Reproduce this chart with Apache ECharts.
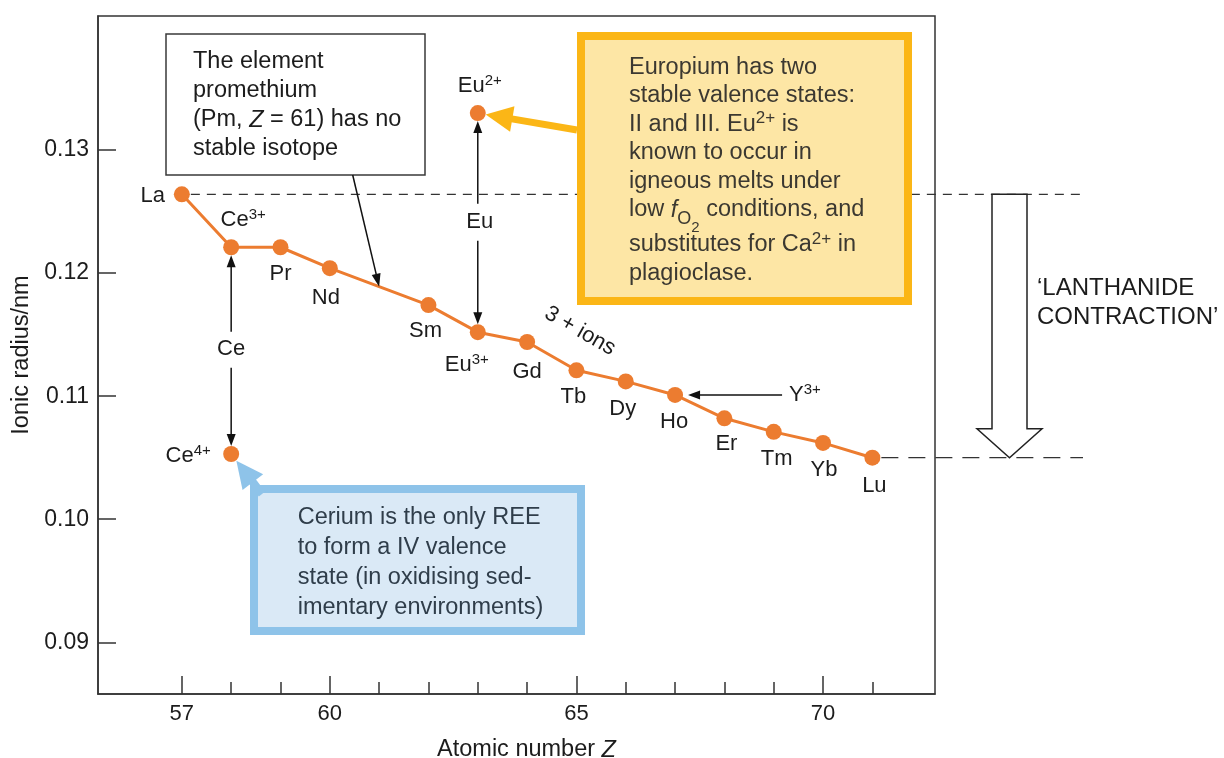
<!DOCTYPE html>
<html>
<head>
<meta charset="utf-8">
<title>Lanthanide contraction</title>
<script src="https://cdn.jsdelivr.net/npm/echarts@6/dist/echarts.min.js"></script>
<style>
html, body { margin: 0; padding: 0; background: #fff; }
#chart { width: 1224px; height: 758px; }
</style>
</head>
<body>
<div id="chart"></div>
<script>
// 3+ ions (Pm, Z = 61, is left out: no stable isotope)
var elements = ['La', 'Ce', 'Pr', 'Nd', 'Sm', 'Eu', 'Gd', 'Tb', 'Dy', 'Ho', 'Er', 'Tm', 'Yb', 'Lu'];
var atomicNumbers = [57, 58, 59, 60, 62, 63, 64, 65, 66, 67, 68, 69, 70, 71];
var radius3plus = [0.1264, 0.1221, 0.1221, 0.1204, 0.1174, 0.1152, 0.1144, 0.1121, 0.1112, 0.1101, 0.1082, 0.1071, 0.1062, 0.1050];
var chargeShown = ['', '3+', '', '', '', '3+', '', '', '', '', '', '', '', ''];

// other valence states
var otherIons = ['Ce', 'Eu'];
var otherCharges = ['4+', '2+'];
var otherZ = [58, 63];
var otherRadius = [0.1053, 0.1330];

// axes
var xMajorTicks = [57, 60, 65, 70];
var xMinorTicks = [57, 58, 59, 60, 61, 62, 63, 64, 65, 66, 67, 68, 69, 70, 71];
var yTicks = [0.09, 0.10, 0.11, 0.12, 0.13];
var xMin = 55.3, xMax = 72.27;
var yMin = 0.0858, yMax = 0.14089;

var FONT = '"Liberation Sans", Arial, Helvetica, sans-serif';
var INK = '#1c1c1c';
var AXIS = '#333';
var ORANGE = '#ec7c30';
var BOX_FONT = 23.5;

// label offsets (px from dot centre to label centre)
var labelOffset = {
    La: [-29, 2], Ce: [12, -27], Pr: [0, 27], Nd: [-4, 30], Sm: [-3, 26], Eu: [-11, 33],
    Gd: [0, 30], Tb: [-3, 27], Dy: [-3, 28], Ho: [-1, 27], Er: [2, 26], Tm: [3, 27],
    Yb: [1, 27], Lu: [2, 28]
};
var otherOffset = {Ce: [-43, 2], Eu: [2, -27]};

var supRich = {
    sup: {fontSize: 15, lineHeight: 14, verticalAlign: 'top', fontFamily: FONT, color: INK}
};
var pointLabel = {
    show: true,
    position: 'inside',
    color: INK,
    fontSize: 22,
    lineHeight: 26,
    fontFamily: FONT,
    textBorderWidth: 0,
    rich: supRich
};

function ionText(sym, charge) {
    return charge ? sym + '{sup|' + charge + '}' : sym;
}

var option = {
    animation: false,
    backgroundColor: '#fff',
    grid: {
        left: 98, right: 289, top: 16, bottom: 64,
        outerBoundsMode: 'none',
        containLabel: false,
        show: true, borderColor: AXIS, borderWidth: 1.5
    },
    xAxis: [{
        type: 'value',
        min: xMin,
        max: xMax,
        position: 'bottom',
        name: 'Atomic number {i|Z}',
        nameLocation: 'middle',
        nameGap: 44,
        nameTextStyle: {
            color: INK, fontSize: 23.5, fontFamily: FONT, padding: [0, 0, 0, 20],
            rich: {i: {fontStyle: 'italic', fontSize: 23.5, fontFamily: FONT, color: INK}}
        },
        axisLine: {onZero: false, lineStyle: {color: AXIS, width: 1.5}},
        axisTick: {inside: true, length: 18, customValues: xMajorTicks, lineStyle: {color: AXIS, width: 1.5}},
        axisLabel: {customValues: xMajorTicks, fontSize: 22, color: INK, fontFamily: FONT, margin: 9},
        splitLine: {show: false}
    }, {
        type: 'value',
        min: xMin,
        max: xMax,
        position: 'bottom',
        axisLine: {show: false, onZero: false},
        axisTick: {inside: true, length: 12, customValues: xMinorTicks, lineStyle: {color: AXIS, width: 1.5}},
        axisLabel: {show: false},
        splitLine: {show: false}
    }],
    yAxis: {
        type: 'value',
        min: yMin,
        max: yMax,
        name: 'Ionic radius/nm',
        nameLocation: 'middle',
        nameGap: 64,
        nameTextStyle: {color: INK, fontSize: 23.5, fontFamily: FONT},
        axisLine: {onZero: false, lineStyle: {color: AXIS, width: 1.5}},
        axisTick: {inside: true, length: 18, customValues: yTicks, lineStyle: {color: AXIS, width: 1.5}},
        axisLabel: {
            customValues: yTicks, fontSize: 23, color: INK, fontFamily: FONT, margin: 9,
            formatter: function (v) { return v.toFixed(2); }
        },
        splitLine: {show: false}
    },
    series: [
        {
            type: 'line',
            name: '3+ ions',
            xAxisIndex: 0,
            data: atomicNumbers.map(function (z, i) {
                return {
                    value: [z, radius3plus[i]],
                    label: {formatter: ionText(elements[i], chargeShown[i]), offset: labelOffset[elements[i]]}
                };
            }),
            symbol: 'circle',
            symbolSize: 16,
            itemStyle: {color: ORANGE},
            lineStyle: {color: ORANGE, width: 3},
            label: pointLabel,
            emphasis: {disabled: true},
            z: 5
        },
        {
            type: 'scatter',
            name: 'other valence',
            xAxisIndex: 0,
            data: otherZ.map(function (z, i) {
                return {
                    value: [z, otherRadius[i]],
                    label: {formatter: ionText(otherIons[i], otherCharges[i]), offset: otherOffset[otherIons[i]]}
                };
            }),
            symbol: 'circle',
            symbolSize: 16,
            itemStyle: {color: ORANGE, opacity: 1},
            label: pointLabel,
            emphasis: {disabled: true},
            z: 5
        }
    ]
};

var chart = echarts.init(document.getElementById('chart'), null, {renderer: 'canvas'});
chart.setOption(option);

function px(z, r) {
    return chart.convertToPixel({xAxisIndex: 0, yAxisIndex: 0}, [z, r]);
}

function arrow(from, to, color, width, headLen, headHalf, z) {
    var dx = to[0] - from[0], dy = to[1] - from[1];
    var len = Math.sqrt(dx * dx + dy * dy);
    var ux = dx / len, uy = dy / len;
    var bx = to[0] - ux * headLen, by = to[1] - uy * headLen;
    return [
        {type: 'line', z: z, silent: true,
            shape: {x1: from[0], y1: from[1], x2: bx + ux * 2, y2: by + uy * 2},
            style: {stroke: color, lineWidth: width}},
        {type: 'polygon', z: z, silent: true,
            shape: {points: [[to[0], to[1]], [bx - uy * headHalf, by + ux * headHalf], [bx + uy * headHalf, by - ux * headHalf]]},
            style: {fill: color}}
    ];
}

function toward(p, q, d) {
    var dx = q[0] - p[0], dy = q[1] - p[1];
    var len = Math.sqrt(dx * dx + dy * dy);
    return [p[0] + dx / len * d, p[1] + dy / len * d];
}

function txt(x, y, text, opts) {
    opts = opts || {};
    return {
        type: 'text', z: opts.z || 12, silent: true,
        x: x, y: y, rotation: opts.rotation || 0,
        style: {
            text: text, x: 0, y: 0,
            fill: opts.color || INK,
            fontSize: opts.size || 22, fontFamily: FONT,
            lineHeight: opts.lh || 26,
            align: opts.align || 'center',
            verticalAlign: opts.va || 'middle',
            rich: opts.rich
        }
    };
}

// sup: raised small figures; i: italic; sub/sub2: lowered by top padding
function boxRich(color) {
    return {
        sup: {fontSize: 17, lineHeight: 28.6, verticalAlign: 'top', fontFamily: FONT, fill: color},
        i: {fontSize: BOX_FONT, fontStyle: 'italic', lineHeight: 28.6, fontFamily: FONT, fill: color},
        sub: {fontSize: 18, lineHeight: 28.6, verticalAlign: 'top', padding: [14, 0, 0, 0], fontFamily: FONT, fill: color},
        sub2: {fontSize: 15, lineHeight: 28.6, verticalAlign: 'top', padding: [25, 0, 0, 0], fontFamily: FONT, fill: color}
    };
}

function block(x, centers, lines, color) {
    return lines.map(function (line, k) {
        return txt(x, centers[k], line, {size: BOX_FONT, color: color, align: 'left', lh: 28.6, rich: boxRich(color)});
    });
}

var pLa = px(atomicNumbers[0], radius3plus[0]);
var pCe3 = px(atomicNumbers[1], radius3plus[1]);
var pNd = px(atomicNumbers[3], radius3plus[3]);
var pSm = px(atomicNumbers[4], radius3plus[4]);
var pEu3 = px(atomicNumbers[5], radius3plus[5]);
var pHo = px(atomicNumbers[9], radius3plus[9]);
var pLu = px(atomicNumbers[13], radius3plus[13]);
var pCe4 = px(otherZ[0], otherRadius[0]);
var pEu2 = px(otherZ[1], otherRadius[1]);

var g = [];

// dashed reference levels (La and Lu)
g.push({type: 'line', z: 1, silent: true,
    shape: {x1: pLa[0] + 9, y1: pLa[1], x2: 1083, y2: pLa[1]},
    style: {stroke: '#333', lineWidth: 1.3, lineDash: [9, 7]}});
g.push({type: 'line', z: 1, silent: true,
    shape: {x1: pLu[0] + 9, y1: pLu[1], x2: 1083, y2: pLu[1]},
    style: {stroke: '#333', lineWidth: 1.3, lineDash: [17, 10]}});

// hollow 'lanthanide contraction' arrow
var headY = pLu[1] - 29;
g.push({type: 'polygon', z: 3, silent: true,
    shape: {points: [[992, pLa[1]], [1027, pLa[1]], [1027, headY], [1042, headY], [1009.5, pLu[1]], [977, headY], [992, headY]]},
    style: {fill: '#fff', stroke: '#222', lineWidth: 1.5}});
g.push(txt(1037, 288, '\u2018LANTHANIDE', {size: 24, align: 'left'}));
g.push(txt(1037, 317, 'CONTRACTION\u2019', {size: 24, align: 'left'}));

// promethium box
g.push({type: 'rect', z: 10, silent: true,
    shape: {x: 166, y: 34, width: 259, height: 141},
    style: {fill: '#fff', stroke: '#3a3a3a', lineWidth: 1.5}});
g = g.concat(block(193, [62, 91, 120, 148.5],
    ['The element', 'promethium', '(Pm, {i|Z} = 61) has no', 'stable isotope'], INK));
var pPm = [(pNd[0] + pSm[0]) / 2, (pNd[1] + pSm[1]) / 2];
g = g.concat(arrow([352.7, 175], pPm, '#111', 1.5, 13, 4.5, 11));

// europium box
var euInk = '#3b3831';
g.push({type: 'rect', z: 10, silent: true,
    shape: {x: 581, y: 36, width: 327, height: 265},
    style: {fill: '#fde6a5', stroke: '#fbb616', lineWidth: 8}});
g = g.concat(block(629, [67.5, 96, 124.5, 153, 181.5, 210, 245, 273.5],
    ['Europium has two', 'stable valence states:', 'II and III. Eu{sup|2+} is', 'known to occur in',
        'igneous melts under', 'low {i|f}{sub|O}{sub2|2} conditions, and',
        'substitutes for Ca{sup|2+} in', 'plagioclase.'], euInk));
var yFrom = [577, 130];
g = g.concat(arrow(yFrom, toward(pEu2, yFrom, 8), '#fbb616', 7, 27, 13, 11));

// cerium box
var ceInk = '#2f3d4a';
g.push({type: 'rect', z: 10, silent: true,
    shape: {x: 254, y: 489, width: 327, height: 142},
    style: {fill: '#dae9f6', stroke: '#8ec3e9', lineWidth: 8}});
g = g.concat(block(297.7, [517.5, 547.5, 577.5, 607.5],
    ['Cerium is the only REE', 'to form a IV valence', 'state (in oxidising sed-', 'imentary environments)'], ceInk));
var bFrom = [262, 494];
g = g.concat(arrow(bFrom, toward(pCe4, bFrom, 8.5), '#8ec3e9', 8, 27, 13, 11));

// Ce and Eu double arrows between valence states
var ceMid = (pCe3[1] + pCe4[1]) / 2;
g.push(txt(pCe3[0], ceMid - 2, 'Ce'));
g = g.concat(arrow([pCe3[0], ceMid - 19], [pCe3[0], pCe3[1] + 8], '#111', 1.5, 12, 4.5, 4));
g = g.concat(arrow([pCe3[0], ceMid + 17], [pCe4[0], pCe4[1] - 8], '#111', 1.5, 12, 4.5, 4));

var euMid = (pEu2[1] + pEu3[1]) / 2;
g.push(txt(pEu2[0] + 2, euMid - 1, 'Eu'));
g = g.concat(arrow([pEu2[0], euMid - 19], [pEu2[0], pEu2[1] + 8], '#111', 1.5, 12, 4.5, 4));
g = g.concat(arrow([pEu2[0], euMid + 18], [pEu3[0], pEu3[1] - 8], '#111', 1.5, 12, 4.5, 4));

// Y3+ marker on Ho
g = g.concat(arrow([pHo[0] + 107, pHo[1]], [pHo[0] + 13, pHo[1]], '#111', 1.5, 12, 4.5, 4));
g.push(txt(pHo[0] + 114, pHo[1], 'Y{sup|3+}', {align: 'left', rich: supRich}));

// series caption
g.push(txt(580, 331, '3 + ions', {rotation: -0.52}));

chart.setOption({graphic: {elements: g}});
</script>
</body>
</html>
